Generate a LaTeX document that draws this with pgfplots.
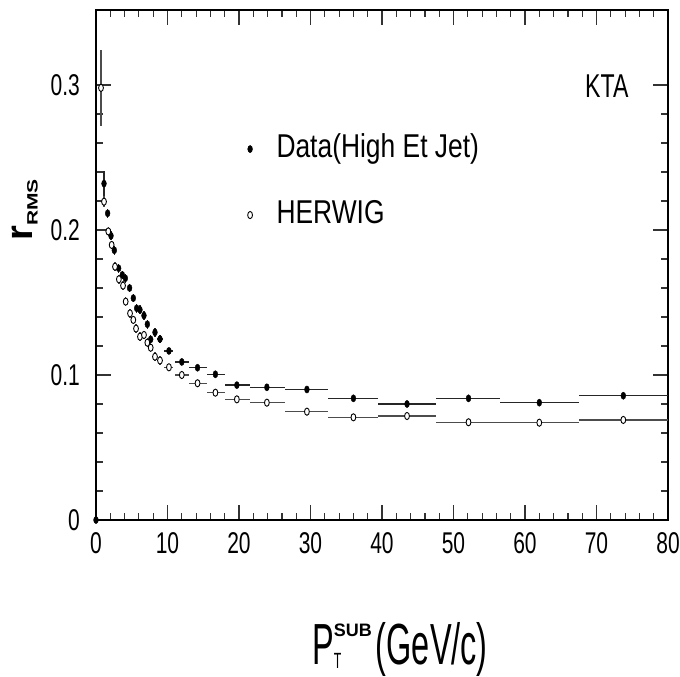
\documentclass[border=0pt]{standalone}
\usepackage{fontspec}
\setmainfont[FakeStretch=0.7]{Liberation Sans}
\newfontfamily\narrowfont[FakeStretch=0.56]{Liberation Sans}
\newfontfamily\legfont[FakeStretch=0.8]{Liberation Sans}
\newfontfamily\labfont{Liberation Sans}
\newfontfamily\widefont[FakeStretch=1.4]{Liberation Sans}
\usepackage{pgfplots}
\usepackage{pgfplotstable}
\pgfplotsset{compat=1.18}

\pgfplotstableread{
x      y       xm    xp    ye
0.0    0.0     0     0     0
1.12   0.232   0.25  0.25  0.009
1.63   0.2115  0.25  0.25  0.003
2.10   0.196   0.25  0.25  0.003
2.56   0.186   0.25  0.25  0.003
3.17   0.1736  0.25  0.25  0.003
3.68   0.169   0.25  0.25  0.003
4.10   0.1667  0.25  0.25  0.003
4.70   0.160   0.25  0.25  0.003
5.22   0.153   0.25  0.25  0.003
5.69   0.146   0.25  0.25  0.003
6.15   0.145   0.25  0.25  0.003
6.71   0.141   0.25  0.25  0.003
7.18   0.135   0.25  0.25  0.003
7.65   0.1246  0.25  0.25  0.003
8.25   0.1294  0.3   0.3   0.003
8.95   0.1248  0.4   0.4   0.003
10.2   0.1166  0.7   0.6   0.002
12.0   0.109   1.0   1.0   0.002
14.2   0.105   1.2   1.3   0.002
16.7   0.1005  1.2   1.3   0.002
19.7   0.093   1.7   1.8   0.002
23.9   0.0915  2.4   2.6   0.002
29.5   0.090   3.0   3.0   0.002
36.0   0.0839  3.5   3.5   0.002
43.5   0.080   4.0   4.0   0.002
52.1   0.0839  4.6   4.4   0.002
62.0   0.0809  5.5   5.5   0.002
73.75  0.0857  6.25  6.25  0.002
}\datafilled

\pgfplotstableread{
x      y       xm    xp    ye
0.70   0.298   0     0     0.026
1.12   0.2195  0.25  0.25  0.004
1.72   0.199   0.25  0.25  0.003
2.19   0.1897  0.25  0.25  0.003
2.66   0.1747  0.25  0.25  0.003
3.20   0.166   0.25  0.25  0.003
3.78   0.1616  0.25  0.25  0.003
4.15   0.1506  0.25  0.25  0.003
4.76   0.1425  0.25  0.25  0.003
5.22   0.138   0.25  0.25  0.003
5.60   0.132   0.25  0.25  0.003
6.15   0.1264  0.25  0.25  0.003
6.71   0.1276  0.25  0.25  0.003
7.18   0.1223  0.25  0.25  0.003
7.65   0.1188  0.25  0.25  0.003
8.25   0.1126  0.3   0.3   0.003
8.95   0.110   0.4   0.4   0.003
10.2   0.1053  0.7   0.6   0.002
12.0   0.100   1.0   1.0   0.002
14.2   0.0943  1.2   1.3   0.002
16.7   0.0878  1.2   1.3   0.002
19.7   0.0832  1.7   1.8   0.002
23.9   0.0809  2.4   2.6   0.002
29.5   0.0747  3.0   3.0   0.002
36.0   0.0708  3.5   3.5   0.002
43.5   0.0717  4.0   4.0   0.002
52.1   0.0674  4.6   4.4   0.002
62.0   0.0671  5.5   5.5   0.002
73.75  0.0690  6.25  6.25  0.002
}\dataherwig

\begin{document}
\begin{tikzpicture}
\begin{axis}[
  at={(0pt,0pt)}, anchor=south west,
  scale only axis, width=572pt, height=510pt,
  xmin=0, xmax=80, ymin=0, ymax=0.3517,
  xtick={0,10,...,80}, minor x tick num=4,
  ytick={0,0.1,0.2,0.3}, minor y tick num=4,
  xtick pos=both, ytick pos=both, tick align=inside,
  major tick length=15pt, minor tick length=7pt,
  every tick/.style={draw=black!80, line width=1.2pt},
  axis line style={line width=1.6pt},
  xticklabel style={anchor=north, inner sep=0pt, yshift=-12pt, font=\fontsize{30}{30}\selectfont},
  yticklabel style={anchor=east, inner sep=0pt, xshift=-16pt, font=\fontsize{30}{30}\selectfont},
  /pgf/number format/assume math mode=true,
  clip=false,
  legend style={draw=none, fill=none, at={(axis cs:20.77,0.2680)}, anchor=north west,
    font=\legfont\fontsize{33}{33}\selectfont,
    nodes={inner sep=0pt, text height=24pt, text depth=7pt},
    column sep=24pt, row sep=35pt},
  legend cell align=left,
  legend image code/.code={\draw[#1] plot coordinates {(0.3cm,0cm)};},
]
\addplot[only marks, mark=*, mark size=2.4pt, mark options={yscale=1.5, fill=black, draw=black},
  error bars/.cd, x dir=both, x explicit, y dir=both, y explicit, error mark=none,
  error bar style={black!85, line width=1.3pt}]
  table[x=x, y=y, x error minus=xm, x error plus=xp, y error=ye] {\datafilled};
\addplot[only marks, mark=*, mark size=2.4pt, mark options={yscale=1.5, fill=white, draw=black, line width=0.9pt},
  error bars/.cd, x dir=both, x explicit, y dir=both, y explicit, error mark=none,
  error bar style={black!70, line width=1.3pt}]
  table[x=x, y=y, x error minus=xm, x error plus=xp, y error=ye] {\dataherwig};
\addlegendimage{only marks, mark=*, mark size=2.8pt, black}
\addlegendentry{Data(High Et Jet)}
\addlegendimage{only marks, mark=*, mark size=2.3pt, mark options={fill=white, draw=black, line width=0.9pt}}
\addlegendentry{HERWIG}
\end{axis}
\node[anchor=base west, inner sep=0pt, font=\fontsize{33}{33}\selectfont] at (489pt,422pt) {KTA};
\node[anchor=center, inner sep=0pt, rotate=90] at (-71pt,310pt)
  {\labfont\bfseries\fontsize{38}{38}\selectfont r\raisebox{-5pt}{\widefont\bfseries\fontsize{15}{15}\selectfont RMS}};
\node[anchor=base west, inner sep=0pt] at (216pt,-145pt)
  {\narrowfont\fontsize{58}{58}\selectfont P\rlap{\raisebox{-4pt}{\fontsize{22}{22}\selectfont T}}\raisebox{29pt}{\labfont\bfseries\fontsize{18}{18}\selectfont SUB}\hspace{4pt}(GeV/c)};
\pgfresetboundingbox
\path[use as bounding box] (-96pt,-157pt) rectangle (584pt,520pt);
\end{tikzpicture}
\end{document}
